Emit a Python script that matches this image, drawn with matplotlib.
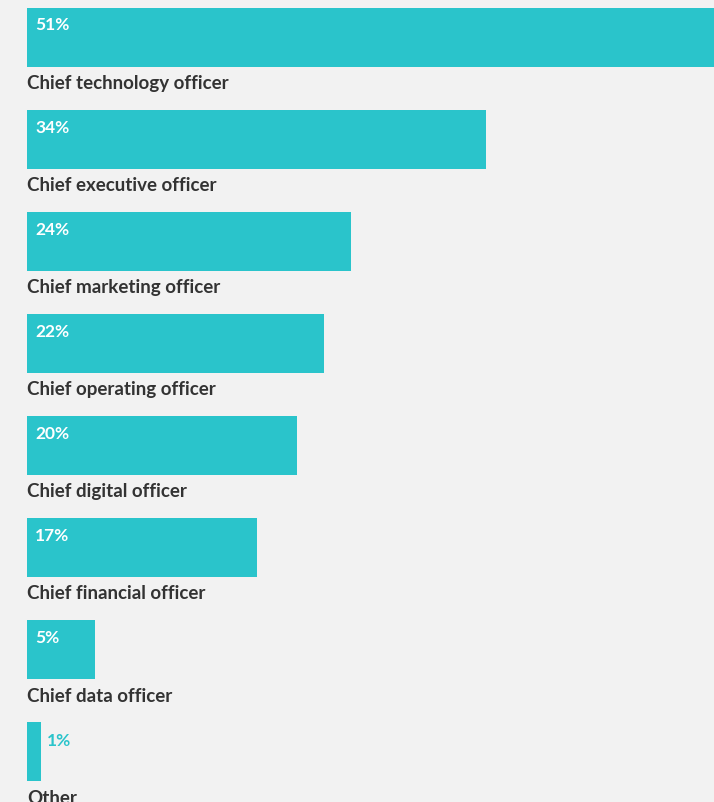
import matplotlib.pyplot as plt

roles = ['Chief technology officer', 'Chief executive officer', 'Chief marketing officer',
         'Chief operating officer', 'Chief digital officer', 'Chief financial officer',
         'Chief data officer', 'Other']
shares = [51, 34, 24, 22, 20, 17, 5, 1]

TEAL = '#2ac4cb'
INK = '#333333'
BG = '#f2f2f2'

W, H = 714, 803
fig = plt.figure(figsize=(W / 100, H / 100), dpi=100, facecolor=BG)
ax = fig.add_axes([0, 0, 1, 1], facecolor=BG)

# one percent = 13.5 px, bars start 27 px in
ax.set_xlim(-27 / 13.5, (W - 27) / 13.5)
ax.set_ylim(H, 0)
ax.axis('off')

step, bar_h, top0 = 102.1, 59, 8.5
for i, (role, v) in enumerate(zip(roles, shares)):
    top = top0 + step * i
    ax.barh(top + bar_h / 2, v, height=bar_h, left=0, color=TEAL)
    if v >= 3:
        ax.text(0.6, top + 17, f'{v}%', color='white', fontsize=12.5, fontweight='bold',
                family='Lato', va='center', ha='left')
    else:
        ax.text(v + 0.5, top + 18, f'{v}%', color=TEAL, fontsize=12.5, fontweight='bold',
                family='Lato', va='center', ha='left')
    ax.text(0, top + bar_h + 16, role, color=INK, fontsize=13.5, fontweight='bold',
            family='Lato', va='center', ha='left')

fig.savefig('out.png', dpi=100, facecolor=BG)
